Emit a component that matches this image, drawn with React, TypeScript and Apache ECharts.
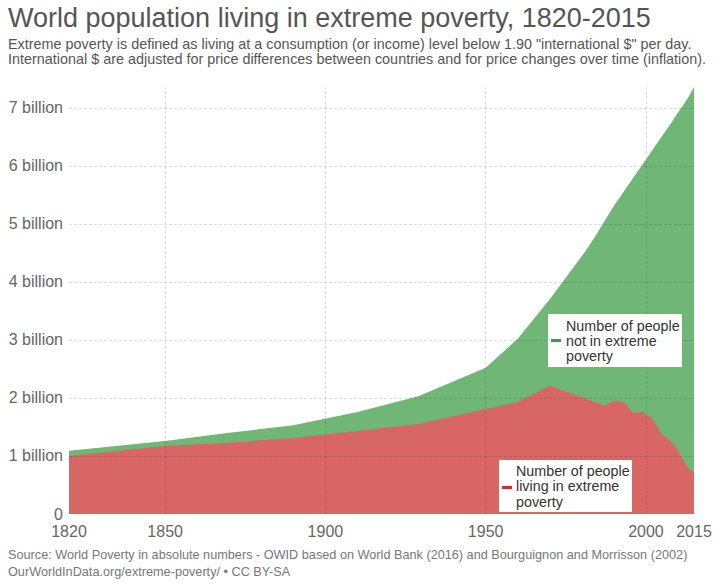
import React, { useEffect, useRef } from "react";
import * as echarts from "echarts";

const years = [1820, 1850, 1870, 1890, 1910, 1929, 1950, 1960, 1970, 1981, 1984, 1987, 1990, 1993, 1996, 1999, 2002, 2005, 2008, 2010, 2011, 2012, 2013, 2015];
// billions of people living in extreme poverty
const inPoverty = [1.0, 1.17, 1.23, 1.31, 1.43, 1.55, 1.81, 1.93, 2.21, 1.99, 1.93, 1.86, 1.95, 1.93, 1.74, 1.76, 1.64, 1.37, 1.25, 1.1, 0.98, 0.92, 0.8, 0.71];
// total world population in billions (top of the green area = poverty + not in poverty)
const worldTotal = [1.09, 1.26, 1.4, 1.53, 1.76, 2.03, 2.52, 3.02, 3.7, 4.52, 4.77, 5.04, 5.31, 5.55, 5.79, 6.03, 6.27, 6.51, 6.75, 6.92, 7.0, 7.08, 7.16, 7.36];
const xTickLabels = [1820, 1850, 1900, 1950, 2000, 2015];
const xGridYears = [1850, 1900, 1950, 2000];
const yTicks = [0, 1, 2, 3, 4, 5, 6, 7];

const TITLE = "World population living in extreme poverty, 1820-2015";
const SUB1 = 'Extreme poverty is defined as living at a consumption (or income) level below 1.90 "international $" per day.';
const SUB2 = "International $ are adjusted for price differences between countries and for price changes over time (inflation).";
const SRC1 = "Source: World Poverty in absolute numbers - OWID based on World Bank (2016) and Bourguignon and Morrisson (2002)";
const SRC2 = "OurWorldInData.org/extreme-poverty/ • CC BY-SA";
const LABEL_GREEN = "Number of people\nnot in extreme\npoverty";
const LABEL_RED = "Number of people\nliving in extreme\npoverty";

const RED = "#d86664";
const GREEN = "#6fb677";
const FONT = "Liberation Sans, Arial, sans-serif";

export default function App() {
  const ref = useRef<HTMLDivElement>(null);
  useEffect(() => {
    if (!ref.current) return;
    const chart = echarts.init(ref.current, null, { renderer: "svg" });
    const gridLineStyle = { color: "rgba(0,0,0,0.13)", width: 1, type: [3, 2] };
    const gridMarks: any[] = [];
    xGridYears.forEach((v) => gridMarks.push({ xAxis: v }));
    yTicks.forEach((v) => {
      if (v > 0) gridMarks.push({ yAxis: v });
    });
    chart.setOption({
      animation: false,
      textStyle: { fontFamily: FONT },
      grid: { left: 69, right: 27, top: 87, bottom: 70, containLabel: false },
      xAxis: {
        type: "value",
        min: 1820,
        max: 2015,
        axisLine: { show: false },
        axisTick: { show: false },
        splitLine: { show: false },
        axisLabel: {
          customValues: xTickLabels,
          color: "#666",
          fontSize: 16,
          margin: 9,
          fontFamily: FONT,
          formatter: (v: number) => String(v),
        },
      },
      yAxis: {
        type: "value",
        min: 0,
        max: 7.36,
        interval: 1,
        axisLine: { show: false },
        axisTick: { show: false },
        splitLine: { show: false },
        axisLabel: {
          customValues: yTicks,
          color: "#666",
          fontSize: 16,
          margin: 6,
          fontFamily: FONT,
          formatter: (v: number) => (Math.abs(v - Math.round(v)) > 1e-6 ? "" : v === 0 ? "0" : `${v} billion`),
        },
      },
      series: [
        {
          name: "Number of people not in extreme poverty",
          type: "line",
          symbol: "none",
          z: 2,
          lineStyle: { width: 0 },
          areaStyle: { color: GREEN, opacity: 1 },
          data: years.map((y, i) => [y, worldTotal[i]]),
        },
        {
          name: "Number of people living in extreme poverty",
          type: "line",
          symbol: "none",
          z: 3,
          lineStyle: { width: 0 },
          areaStyle: { color: RED, opacity: 1 },
          data: years.map((y, i) => [y, inPoverty[i]]),
        },
        {
          name: "gridlines",
          type: "line",
          z: 10,
          data: [],
          markLine: {
            silent: true,
            symbol: "none",
            z: 10,
            label: { show: false },
            lineStyle: gridLineStyle,
            data: gridMarks,
          },
        },
      ],
      graphic: {
        elements: [
          { type: "text", x: 8, y: 4.5, style: { text: TITLE, font: `27px ${FONT}`, fill: "#555" } },
          { type: "text", x: 8, y: 37, style: { text: SUB1, font: `14.4px ${FONT}`, fill: "#555" } },
          { type: "text", x: 8, y: 51.5, style: { text: SUB2, font: `14.4px ${FONT}`, fill: "#555" } },
          { type: "text", x: 8, y: 548, style: { text: SRC1, font: `12.7px ${FONT}`, fill: "#777" } },
          { type: "text", x: 8, y: 565, style: { text: SRC2, font: `12.7px ${FONT}`, fill: "#777" } },
          { type: "rect", z: 100, shape: { x: 548, y: 314, width: 134, height: 53 }, style: { fill: "#ffffff" } },
          { type: "rect", z: 101, shape: { x: 551, y: 339, width: 10, height: 3 }, style: { fill: "#3a9a45" } },
          {
            type: "text",
            z: 101,
            x: 566,
            y: 318,
            style: { text: LABEL_GREEN, font: `14.3px ${FONT}`, fill: "#333", lineHeight: 15 },
          },
          { type: "rect", z: 100, shape: { x: 499, y: 460, width: 133, height: 52 }, style: { fill: "#ffffff" } },
          { type: "rect", z: 101, shape: { x: 502, y: 486, width: 10, height: 3 }, style: { fill: "#c8302c" } },
          {
            type: "text",
            z: 101,
            x: 516,
            y: 463,
            style: { text: LABEL_RED, font: `14.3px ${FONT}`, fill: "#333", lineHeight: 15.5 },
          },
        ],
      },
    });
    return () => chart.dispose();
  }, []);
  return <div ref={ref} style={{ width: 721, height: 584, position: "absolute", left: 0, top: 0 }} />;
}
